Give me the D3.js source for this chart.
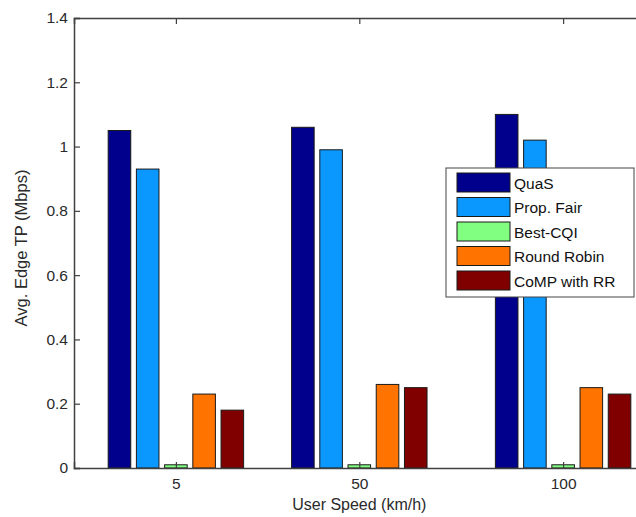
<!DOCTYPE html>
<html>
<head>
<meta charset="utf-8">
<script src="https://cdn.jsdelivr.net/npm/d3@7"></script>
<style>
  html, body { margin: 0; padding: 0; background: #fff; }
  svg { display: block; font-family: "Liberation Sans", Arial, sans-serif; }
</style>
</head>
<body>
<svg id="chart" width="636" height="517"></svg>
<script>
// ---- data ----
const speeds = [5, 50, 100];
const seriesNames = ["QuaS", "Prop. Fair", "Best-CQI", "Round Robin", "CoMP with RR"];
const quas       = [1.05, 1.06, 1.10];
const propFair   = [0.93, 0.99, 1.02];
const bestCQI    = [0.01, 0.01, 0.01];
const roundRobin = [0.23, 0.26, 0.25];
const compRR     = [0.18, 0.25, 0.23];
const yTicks = [0, 0.2, 0.4, 0.6, 0.8, 1, 1.2, 1.4];
const xLabel = "User Speed (km/h)";
const yLabel = "Avg. Edge TP (Mbps)";

const seriesValues = [quas, propFair, bestCQI, roundRobin, compRR];
const colors = ["#00008c", "#0a98ff", "#80ff80", "#ff7300", "#800000"];

// ---- layout ----
const svg = d3.select("#chart");
const mLeft = 74, mRight = 665, mTop = 18, mBottom = 468;

const x = d3.scaleLinear().domain([-20, 125]).range([mLeft, mRight]);
const y = d3.scaleLinear().domain([0, 1.4]).range([mBottom, mTop]);

// MATLAB-style grouped bar: group width = n/(n+1.5) * min spacing
const n = seriesNames.length;
const groupUnits = n / (n + 1.5) * 45;
const groupPx = x(groupUnits) - x(0);
const inner = d3.scaleBand().domain(seriesNames)
  .range([-groupPx / 2, groupPx / 2]).paddingInner(0.2).paddingOuter(0.1);

// bars
const rows = [];
seriesNames.forEach((s, si) => {
  speeds.forEach((sp, ci) => rows.push({ s, si, sp, v: seriesValues[si][ci] }));
});
svg.append("g").selectAll("rect").data(rows).join("rect")
  .attr("x", d => x(d.sp) + inner(d.s))
  .attr("width", inner.bandwidth())
  .attr("y", d => y(d.v))
  .attr("height", d => y(0) - y(d.v))
  .attr("fill", d => colors[d.si])
  .attr("stroke", "#1a1a1a")
  .attr("stroke-width", 1);

// axes
const axisColor = "#404040";
const yAxis = d3.axisLeft(y).tickValues(yTicks).tickSize(-6).tickPadding(6)
  .tickFormat(d => d3.format("~g")(d));
const gy = svg.append("g").attr("transform", `translate(${mLeft},0)`).call(yAxis);
const xAxis = d3.axisBottom(x).tickValues(speeds).tickSize(-6).tickPadding(10);
const gx = svg.append("g").attr("transform", `translate(0,${mBottom})`).call(xAxis);
const xTop = d3.axisTop(x).tickValues(speeds).tickSize(-6).tickFormat("");
const gt = svg.append("g").attr("transform", `translate(0,${mTop})`).call(xTop);

[gy, gx, gt].forEach(g => {
  g.select(".domain").attr("stroke", axisColor).attr("stroke-width", 1.5);
  g.selectAll(".tick line").attr("stroke", axisColor).attr("stroke-width", 1.2);
  g.selectAll(".tick text").attr("fill", "#2a2a2a").attr("font-size", 15.5)
    .attr("font-family", "Liberation Sans, Arial, sans-serif");
});

// axis titles
svg.append("text")
  .attr("x", x(50)).attr("y", 510)
  .attr("text-anchor", "middle").attr("font-size", 16).attr("fill", "#2a2a2a")
  .text(xLabel);
svg.append("text")
  .attr("transform", `translate(27,248) rotate(-90)`)
  .attr("text-anchor", "middle").attr("font-size", 16.5).attr("fill", "#2a2a2a")
  .text(yLabel);

// legend
const lg = svg.append("g").attr("transform", "translate(446,168)");
lg.append("rect").attr("width", 188).attr("height", 129)
  .attr("fill", "#fff").attr("stroke", "#444").attr("stroke-width", 1);
const items = lg.selectAll("g.item").data(seriesNames).join("g")
  .attr("transform", (d, i) => `translate(11,${5 + i * 24.5})`);
items.append("rect").attr("width", 53).attr("height", 19)
  .attr("fill", (d, i) => colors[i]).attr("stroke", "#1a1a1a").attr("stroke-width", 1);
items.append("text").attr("x", 57).attr("y", 15.5).attr("font-size", 15.5)
  .attr("fill", "#111").text(d => d);
</script>
</body>
</html>
